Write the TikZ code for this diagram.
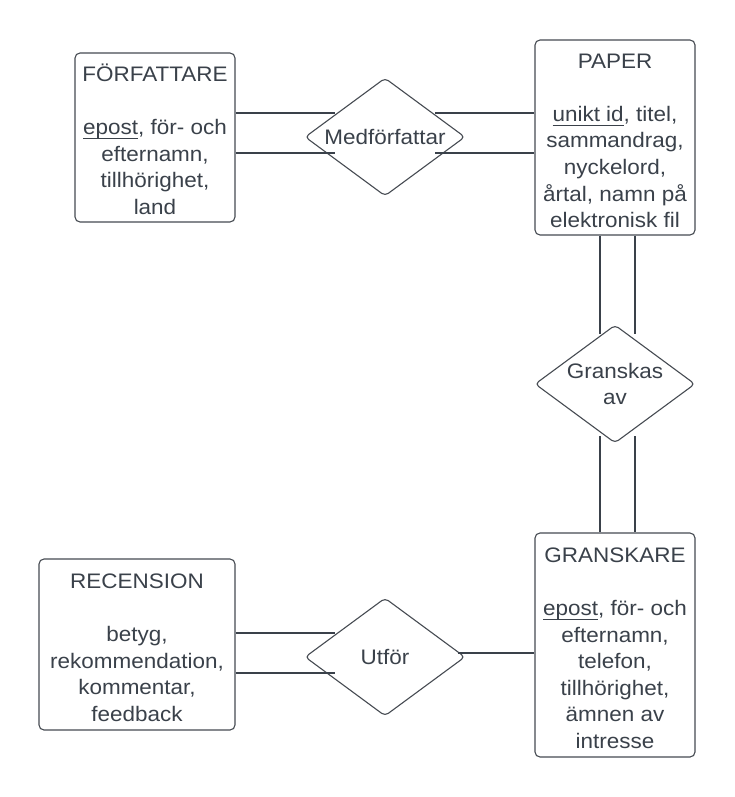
\documentclass[tikz,border=0pt]{standalone}
\usepackage{fontspec}
\setmainfont[FakeStretch=1.07]{Liberation Sans}
\usetikzlibrary{shapes.geometric}
\definecolor{ink}{RGB}{58,65,74}
\definecolor{edge}{RGB}{70,75,82}
\newcommand\myul[1]{\setbox0\hbox{#1}\rlap{\color{ink}\rule[-4.8pt]{\wd0}{1.2pt}}\box0}
\newcommand\toprow{\rule{0pt}{21pt}}
\begin{document}
\begin{tikzpicture}[x=1pt,y=-1pt,
  every node/.style={text=ink, font=\fontsize{21}{26.6}\selectfont},
  entity/.style={draw=edge, line width=1.1pt, rounded corners=5pt, align=center, inner sep=0pt},
  relation/.style={draw=edge, line width=1.1pt, diamond, rounded corners=4pt, minimum width=160pt, minimum height=118pt, inner sep=0pt},
  rlabel/.style={align=center, inner sep=0pt},
  conn/.style={draw=ink, line width=1.1pt}]
\useasboundingbox[fill=white] (0,0) rectangle (735,797);

\node[entity, minimum width=160pt, minimum height=169pt] (fa) at (155,137.5)
  {\toprow FÖRFATTARE\\ ~\\ \myul{epost}, för- och\\ efternamn,\\ tillhörighet,\\ land};
\node[entity, minimum width=160pt, minimum height=195pt] (pa) at (615,137.5)
  {\toprow PAPER\\ ~\\ \myul{unikt id}, titel,\\ sammandrag,\\ nyckelord,\\ årtal, namn på\\ elektronisk fil};
\node[entity, minimum width=160pt, minimum height=224pt] (gk) at (615,645)
  {\toprow GRANSKARE\\ ~\\ \myul{epost}, för- och\\ efternamn,\\ telefon,\\ tillhörighet,\\ ämnen av\\ intresse};
\node[entity, minimum width=196pt, minimum height=171pt] (rc) at (137,644.5)
  {\toprow RECENSION\\ ~\\ betyg,\\ rekommendation,\\ kommentar,\\ feedback};

\node[relation, label={[rlabel]center:Medförfattar}] (med) at (385,137) {};
\node[relation, label={[rlabel]center:Granskas\\av}] (gr) at (615,384) {};
\node[relation, label={[rlabel]center:Utför}] (utf) at (385,657) {};

\coordinate (m1) at (335,113); \coordinate (m2) at (335,153);
\coordinate (m3) at (435,113); \coordinate (m4) at (435,153);
\draw[conn] (fa.east |- m1) -- (m1);
\draw[conn] (fa.east |- m2) -- (m2);
\draw[conn] (m3) -- (m3 -| pa.west);
\draw[conn] (m4) -- (m4 -| pa.west);

\coordinate (g1) at (600,334); \coordinate (g2) at (635,334);
\coordinate (g3) at (600,436); \coordinate (g4) at (635,436);
\draw[conn] (pa.south -| g1) -- (g1);
\draw[conn] (pa.south -| g2) -- (g2);
\draw[conn] (g3) -- (g3 |- gk.north);
\draw[conn] (g4) -- (g4 |- gk.north);

\coordinate (u1) at (335,633); \coordinate (u2) at (335,673);
\coordinate (u3) at (458,653);
\draw[conn] (rc.east |- u1) -- (u1);
\draw[conn] (rc.east |- u2) -- (u2);
\draw[conn] (u3) -- (u3 -| gk.west);
\end{tikzpicture}
\end{document}
